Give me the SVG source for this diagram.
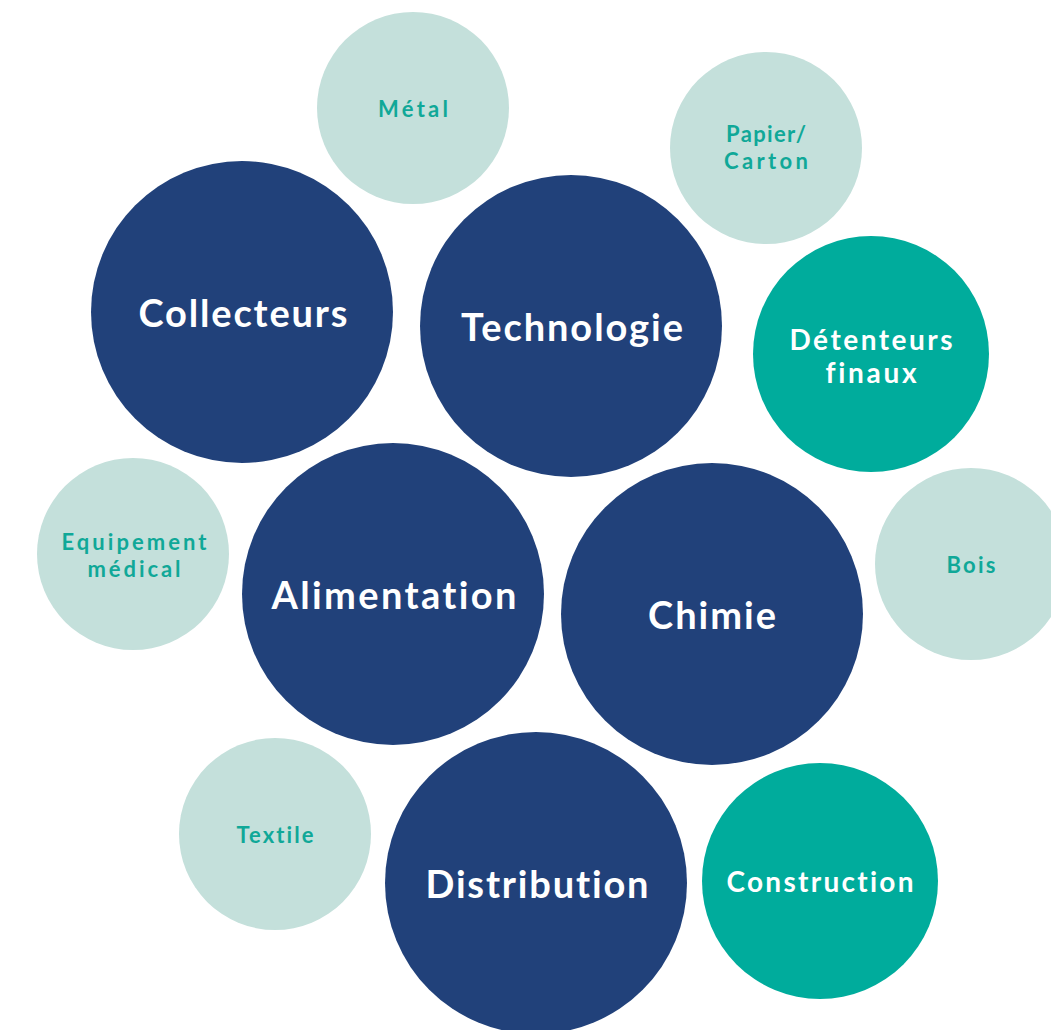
<svg xmlns="http://www.w3.org/2000/svg" width="1051" height="1030" viewBox="0 0 1051 1030">
<style>
.navy{fill:#21417A}
.teal{fill:#00AC9C}
.light{fill:#C4E0DB}
text{font-family:"Lato","Liberation Sans",sans-serif;font-weight:700;text-anchor:middle;font-variant-ligatures:none}
.big{fill:#FFFFFF;font-size:38px}
.mid{fill:#FFFFFF;font-size:28px}
.small{fill:#10A898;font-size:22px}
</style>
<rect width="1051" height="1030" fill="#FFFFFF"/>
<g id="connectors"/>
<g id="metal"><circle class="light" cx="413" cy="108" r="96"/><text class="small" x="413" y="117" textLength="70" lengthAdjust="spacing">Métal</text></g>
<g id="papier"><circle class="light" cx="766" cy="148" r="96"/><text class="small" x="766" y="142" textLength="80" lengthAdjust="spacing">Papier/</text><text class="small" x="766" y="169" textLength="84" lengthAdjust="spacing">Carton</text></g>
<g id="collecteurs"><circle class="navy" cx="242" cy="312" r="151"/><text class="big" x="243" y="327" textLength="209" lengthAdjust="spacing">Collecteurs</text></g>
<g id="technologie"><circle class="navy" cx="571" cy="326" r="151"/><text class="big" x="572" y="341" textLength="222" lengthAdjust="spacing">Technologie</text></g>
<g id="detenteurs"><circle class="teal" cx="871" cy="354" r="118"/><text class="mid" x="871" y="350" textLength="163" lengthAdjust="spacing">Détenteurs</text><text class="mid" x="871" y="383" textLength="91" lengthAdjust="spacing">finaux</text></g>
<g id="equipement"><circle class="light" cx="133" cy="554" r="96"/><text class="small" x="134" y="550" textLength="145" lengthAdjust="spacing">Equipement</text><text class="small" x="134" y="577" textLength="93" lengthAdjust="spacing">médical</text></g>
<g id="alimentation"><circle class="navy" cx="393" cy="594" r="151"/><text class="big" x="394" y="609" textLength="245" lengthAdjust="spacing">Alimentation</text></g>
<g id="chimie"><circle class="navy" cx="712" cy="614" r="151"/><text class="big" x="712" y="629" textLength="128" lengthAdjust="spacing">Chimie</text></g>
<g id="bois"><circle class="light" cx="971" cy="564" r="96"/><text class="small" x="971" y="573" textLength="49" lengthAdjust="spacing">Bois</text></g>
<g id="textile"><circle class="light" cx="275" cy="834" r="96"/><text class="small" x="275" y="843" textLength="77" lengthAdjust="spacing">Textile</text></g>
<g id="distribution"><circle class="navy" cx="536" cy="883" r="151"/><text class="big" x="537" y="898" textLength="223" lengthAdjust="spacing">Distribution</text></g>
<g id="construction"><circle class="teal" cx="820" cy="881" r="118"/><text class="mid" x="820" y="892" textLength="187" lengthAdjust="spacing">Construction</text></g>
</svg>
